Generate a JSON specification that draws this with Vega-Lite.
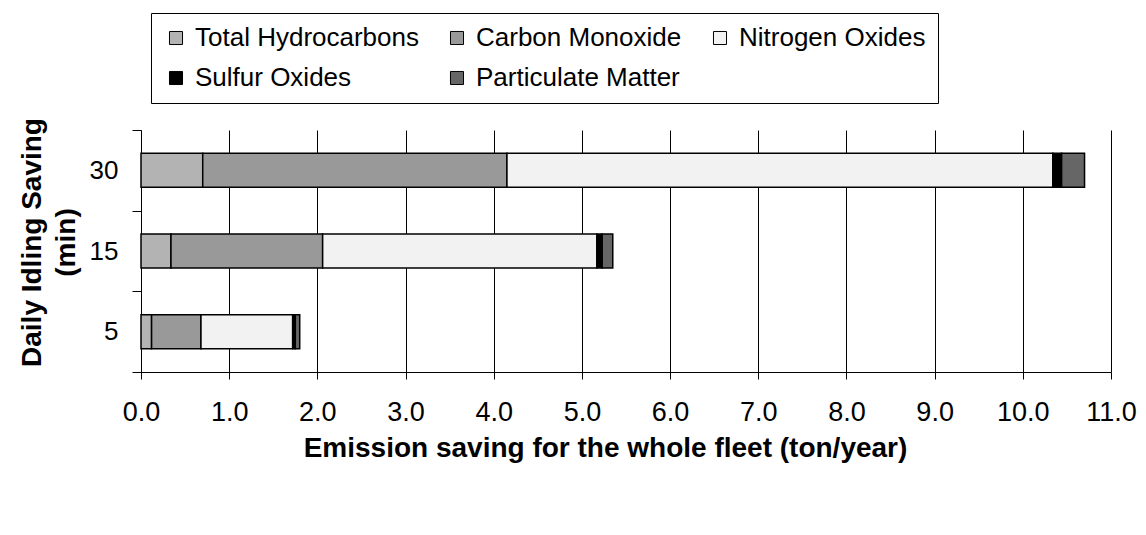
{
  "$schema": "https://vega.github.io/schema/vega-lite/v6.json",
  "width": 970,
  "height": 242,
  "autosize": {"type": "none"},
  "padding": {"left": 141, "top": 130, "right": 35, "bottom": 163},
  "background": "white",
  "config": {"view": {"stroke": null}, "font": "Liberation Sans"},
  "data": {
    "values": [
      {"idle": "30", "pollutant": "Total Hydrocarbons", "k": 1, "value": 0.70},
      {"idle": "30", "pollutant": "Carbon Monoxide", "k": 2, "value": 3.45},
      {"idle": "30", "pollutant": "Nitrogen Oxides", "k": 3, "value": 6.19},
      {"idle": "30", "pollutant": "Sulfur Oxides", "k": 4, "value": 0.10},
      {"idle": "30", "pollutant": "Particulate Matter", "k": 5, "value": 0.26},
      {"idle": "15", "pollutant": "Total Hydrocarbons", "k": 1, "value": 0.34},
      {"idle": "15", "pollutant": "Carbon Monoxide", "k": 2, "value": 1.72},
      {"idle": "15", "pollutant": "Nitrogen Oxides", "k": 3, "value": 3.11},
      {"idle": "15", "pollutant": "Sulfur Oxides", "k": 4, "value": 0.06},
      {"idle": "15", "pollutant": "Particulate Matter", "k": 5, "value": 0.12},
      {"idle": "5", "pollutant": "Total Hydrocarbons", "k": 1, "value": 0.12},
      {"idle": "5", "pollutant": "Carbon Monoxide", "k": 2, "value": 0.56},
      {"idle": "5", "pollutant": "Nitrogen Oxides", "k": 3, "value": 1.04},
      {"idle": "5", "pollutant": "Sulfur Oxides", "k": 4, "value": 0.03},
      {"idle": "5", "pollutant": "Particulate Matter", "k": 5, "value": 0.05}
    ]
  },
  "mark": {"type": "bar", "size": 34, "stroke": "black", "strokeWidth": 1.5},
  "encoding": {
    "y": {
      "field": "idle",
      "type": "nominal",
      "scale": {"domain": ["30", "15", "5"], "paddingInner": 0, "paddingOuter": 0},
      "axis": {
        "title": ["Daily Idling Saving", "(min)"],
        "tickBand": "extent",
        "labelAngle": 0,
        "labelFontSize": 26,
        "labelColor": "black",
        "labelPadding": 14,
        "tickSize": 9,
        "tickColor": "black",
        "domainColor": "black",
        "titleFontSize": 28,
        "titleFontWeight": "bold",
        "titleColor": "black",
        "titleLineHeight": 34,
        "titlePadding": 9,
        "titleY": 112,
        "grid": false
      }
    },
    "x": {
      "field": "value",
      "type": "quantitative",
      "stack": "zero",
      "scale": {"domain": [0, 11], "nice": false},
      "axis": {
        "title": "Emission saving for the whole fleet (ton/year)",
        "values": [0, 1, 2, 3, 4, 5, 6, 7, 8, 9, 10, 11],
        "format": ".1f",
        "grid": true,
        "gridColor": "black",
        "gridOpacity": 1,
        "tickSize": 7,
        "tickColor": "black",
        "domainColor": "black",
        "labelFontSize": 27,
        "labelColor": "black",
        "labelPadding": 20,
        "labelFlush": false,
        "titleFontSize": 28,
        "titleFontWeight": "bold",
        "titleColor": "black",
        "titlePadding": 9,
        "titleX": 464
      }
    },
    "color": {
      "field": "pollutant",
      "type": "nominal",
      "scale": {
        "domain": ["Total Hydrocarbons", "Carbon Monoxide", "Nitrogen Oxides", "Sulfur Oxides", "Particulate Matter"],
        "range": ["#b3b3b3", "#999999", "#f2f2f2", "#000000", "#666666"]
      },
      "legend": {
        "title": null,
        "orient": "none",
        "legendX": 10,
        "legendY": -117,
        "columns": 3,
        "direction": "horizontal",
        "symbolType": "square",
        "symbolSize": 170,
        "symbolStrokeColor": "black",
        "symbolStrokeWidth": 1,
        "labelFontSize": 26,
        "labelColor": "black",
        "labelLimit": 400,
        "labelOffset": 6,
        "strokeColor": "black",
        "padding": 12,
        "columnPadding": 25,
        "rowPadding": 14
      }
    },
    "order": {"field": "k", "type": "quantitative"}
  }
}
